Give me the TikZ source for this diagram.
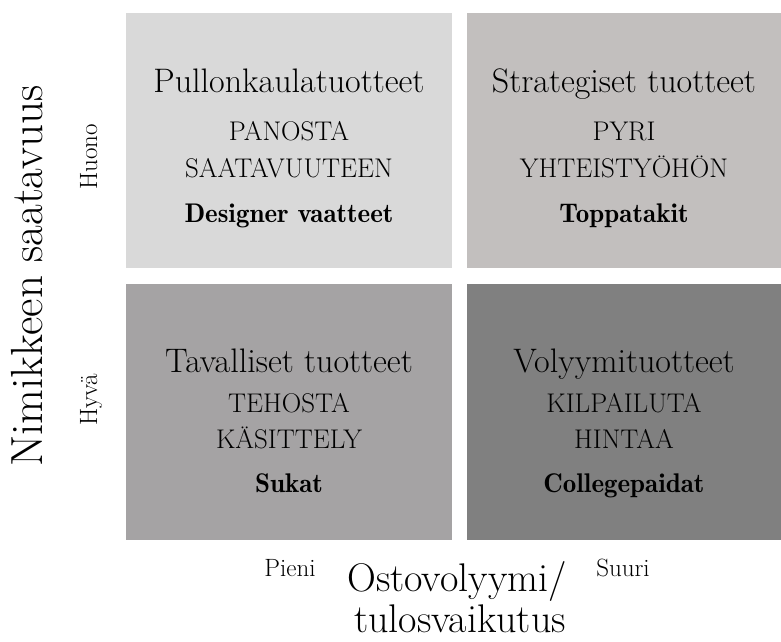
\documentclass[tikz,border=0pt]{standalone}
\usepackage{tikz}
\usetikzlibrary{positioning}
\definecolor{QuadLight}{RGB}{217,217,217}
\definecolor{QuadWarm}{RGB}{194,191,190}
\definecolor{QuadMid}{RGB}{165,163,164}
\definecolor{QuadDark}{RGB}{128,128,128}

\begin{document}
\begin{tikzpicture}[
      x=1pt, y=-1pt,
      quad/.style={inner sep=0pt, minimum height=255pt, anchor=north west},
      qtitle/.style={anchor=base, inner sep=0pt, font=\fontsize{34}{40}\selectfont},
      qaction/.style={anchor=base, inner sep=0pt, font=\fontsize{27}{32}\selectfont},
      qitem/.style={anchor=base, inner sep=0pt, font=\fontseries{b}\fontsize{27}{32}\selectfont},
      axislabel/.style={anchor=base, inner sep=0pt, font=\fontsize{40}{46}\selectfont},
      scalelabel/.style={anchor=base, inner sep=0pt, font=\fontsize{25}{30}\selectfont}
    ]
    \useasboundingbox (0,0) rectangle (781,641);

    % quadrants
    \node[quad, fill=QuadLight, minimum width=326pt] (tl) at (126,13) {};
    \node[quad, fill=QuadWarm, minimum width=314pt] (tr) at (467,13) {};
    \node[quad, fill=QuadMid, minimum width=326pt, minimum height=256pt] (bl) at (126,284) {};
    \node[quad, fill=QuadDark, minimum width=314pt, minimum height=256pt] (br) at (467,284) {};

    % top left
    \node[qtitle] (tltitle) at (289,92) {Pullonkaulatuotteet};
    \node[qaction] (tlact) at (289,140) {PANOSTA};
    \node[qaction] (tlact2) at (289,177) {SAATAVUUTEEN};
    \node[qitem] (tlitem) at (289,222) {Designer vaatteet};

    % top right
    \node[qtitle] (trtitle) at (624,92) {Strategiset tuotteet};
    \node[qaction] (tract) at (624,140) {PYRI};
    \node[qaction] (tract2) at (624,177) {YHTEISTYÖHÖN};
    \node[qitem] (tritem) at (624,222) {Toppatakit};

    % bottom left
    \node[qtitle] (bltitle) at (289,372) {Tavalliset tuotteet};
    \node[qaction] (blact) at (289,412) {TEHOSTA};
    \node[qaction] (blact2) at (289,448) {KÄSITTELY};
    \node[qitem] (blitem) at (289,492) {Sukat};

    % bottom right
    \node[qtitle] (brtitle) at (624,372) {Volyymituotteet};
    \node[qaction] (bract) at (624,412) {KILPAILUTA};
    \node[qaction] (bract2) at (624,448) {HINTAA};
    \node[qitem] (britem) at (624,492) {Collegepaidat};

    % axes
    \node[axislabel, rotate=90, font=\fontsize{45}{52}\selectfont] (ylabel) at (42,276) {Nimikkeen saatavuus};
    \node[scalelabel, rotate=90] (huono) at (97,157) {Huono};
    \node[scalelabel, rotate=90] (hyva) at (97,400) {Hyvä};
    \node[axislabel] (xlabel) at (457,591) {Ostovolyymi/};
    \node[axislabel] (xlabel2) at (460,632) {tulosvaikutus};
    \node[scalelabel] (pieni) at (290,576) {Pieni};
    \node[scalelabel] (suuri) at (623,576) {Suuri};
  \end{tikzpicture}
\end{document}
